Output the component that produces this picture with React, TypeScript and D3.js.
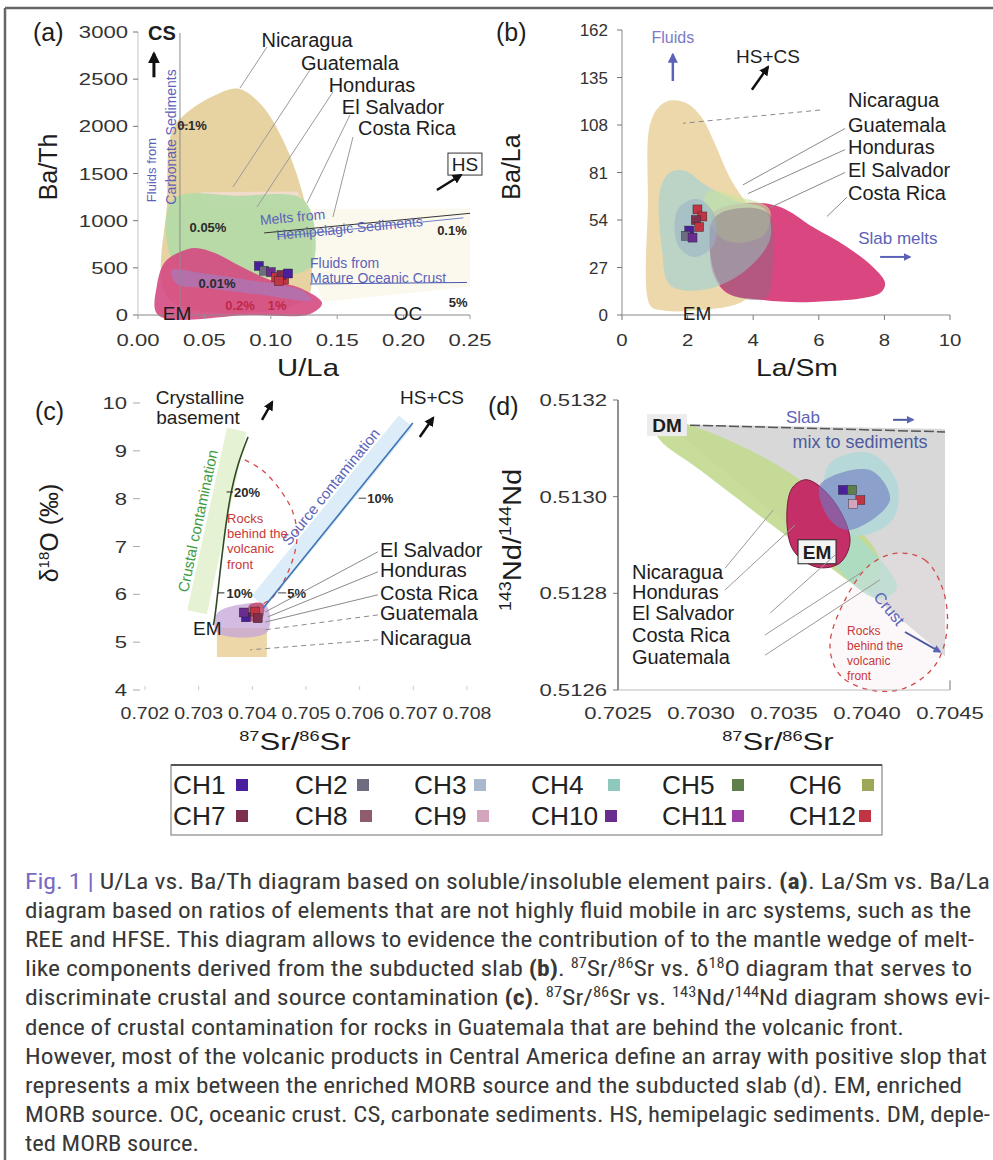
import React from 'react';
import * as d3 from 'd3';

type P = [number, number];
const FONT = "'Liberation Sans', Arial, Helvetica, sans-serif";
const CAP_FONT = "'Liberation Sans Narrow', 'Roboto Condensed', 'Liberation Sans', Arial, sans-serif";

// ---------------- Legend (sample groups) ----------------
const chNames = ['CH1', 'CH2', 'CH3', 'CH4', 'CH5', 'CH6', 'CH7', 'CH8', 'CH9', 'CH10', 'CH11', 'CH12'];
const chColors = ['#4a1f9e', '#6e6c80', '#aab8cc', '#8fc9bd', '#5e7e4c', '#9ea65a', '#7e2f4e', '#8e5c6c', '#d4a4bc', '#6a2c8e', '#9c3ca4', '#c03444'];

// ---------------- (a) U/La vs Ba/Th ----------------
const aXTicks = [0, 0.05, 0.1, 0.15, 0.2, 0.25];
const aXTickLabels = ['0.00', '0.05', '0.10', '0.15', '0.20', '0.25'];
const aYTicks = [0, 500, 1000, 1500, 2000, 2500, 3000];
const aPale: P[] = [[0.125, 1120], [0.25, 1130], [0.25, 300], [0.14, 140], [0.128, 500]];
const aNicaragua: P[] = [[0.024, 160], [0.022, 1220], [0.026, 1960], [0.039, 2170], [0.058, 2330], [0.075, 2400], [0.093, 2225], [0.111, 1800], [0.122, 1380], [0.129, 950], [0.131, 480], [0.126, 160]];
const aGuatemala: P[] = [[0.047, 1300], [0.12, 1310], [0.127, 1150], [0.05, 1150]];
const aHonduras: P[] = [[0.026, 1225], [0.077, 1265], [0.122, 1245], [0.131, 1060], [0.131, 530], [0.114, 424], [0.047, 424], [0.026, 583]];
const aCostaRica: P[] = [[0.015, 0], [0.0143, 318], [0.0203, 562], [0.0316, 668], [0.0429, 710], [0.058, 657], [0.0768, 519], [0.0994, 371], [0.122, 286], [0.1386, 127], [0.1295, 11], [0.0843, 0]];
const aElSalvador: P[] = [[0.025, 470], [0.05, 440], [0.08, 380], [0.125, 250], [0.13, 160], [0.09, 220], [0.05, 290], [0.03, 320]];
const aSamples: [number, number, number][] = [[0.091, 520, 0], [0.095, 470, 1], [0.1, 455, 9], [0.104, 400, 11], [0.11, 375, 11], [0.108, 425, 6], [0.113, 440, 0], [0.106, 360, 11]];
const aLabels: { t: string; p: P }[] = [
  { t: 'Nicaragua', p: [0.1273, 2915] },
  { t: 'Guatemala', p: [0.1596, 2671] },
  { t: 'Honduras', p: [0.1762, 2438] },
  { t: 'El Salvador', p: [0.192, 2205] },
  { t: 'Costa Rica', p: [0.2025, 1982] },
];
const aLeaders: [P, P][] = [
  [[0.0971, 2841], [0.0768, 2406]],
  [[0.1295, 2597], [0.0715, 1357]],
  [[0.1468, 2364], [0.0896, 1145]],
  [[0.1596, 2120], [0.1273, 1187]],
  [[0.1619, 1887], [0.1468, 1039]],
];
const aCSLine: [P, P] = [[0.0316, 0], [0.0316, 2990]];
const aMeltLines: [P, P][] = [[[0.095, 870], [0.25, 1078]], [[0.105, 830], [0.245, 1030]]];
const aFluidLine: [P, P] = [[0.1295, 329], [0.2477, 345]];
const aPercent: { t: string; p: P; red?: boolean }[] = [
  { t: '0.1%', p: [0.0407, 2014] },
  { t: '0.05%', p: [0.0527, 933] },
  { t: '0.01%', p: [0.0595, 339] },
  { t: '0.2%', p: [0.0768, 106], red: true },
  { t: '1%', p: [0.1047, 106], red: true },
  { t: '0.1%', p: [0.2364, 901] },
  { t: '5%', p: [0.241, 138] },
];

// ---------------- (b) La/Sm vs Ba/La ----------------
const bXTicks = [0, 2, 4, 6, 8, 10];
const bYTicks = [0, 27, 54, 81, 108, 135, 162];
const bNicaragua: P[] = [[0.85, 5.7], [0.79, 65], [0.85, 108], [1.16, 119], [1.52, 122], [2.01, 120], [2.44, 112], [2.84, 97], [3.29, 78], [3.84, 62.5], [4.36, 51], [4.51, 31], [3.75, 8.5], [2.38, 2.8], [1.16, 2.8]];
const bHonduras: P[] = [[1.22, 37], [1.16, 71], [1.46, 81], [1.92, 82], [2.53, 74], [3.45, 65], [4.36, 60], [4.51, 43], [3.6, 23], [2.38, 14], [1.46, 17]];
const bElSalvador: P[] = [[2.6, 70], [3.6, 67], [4.5, 60], [4.3, 45], [3.2, 42], [2.6, 55]];
const bGuatemala: P[] = [[1.7, 60], [2.3, 66], [2.8, 58], [2.8, 40], [2.2, 33], [1.7, 40]];
const bCostaRica: P[] = [[2.77, 58], [3.81, 63.7], [4.82, 61.4], [5.82, 50], [6.86, 38.7], [7.65, 27.3], [8.02, 18.2], [7.87, 12.5], [5.82, 7.4], [4.3, 8.5], [3.2, 12.5], [2.77, 23.9], [2.68, 42.6]];
const bOverlap: P[] = [[2.8, 55], [3.8, 61], [4.5, 57], [4.6, 30], [4.4, 10], [3.3, 12], [2.8, 25]];
const bSamples: [number, number, number][] = [[2.3, 60, 11], [2.45, 56, 11], [2.25, 54, 6], [2.05, 48, 0], [1.95, 45, 1], [2.15, 44, 9], [2.35, 50, 11]];
const bLabels: { t: string; p: P }[] = [
  { t: 'Nicaragua', p: [6.89, 122] },
  { t: 'Guatemala', p: [6.89, 108] },
  { t: 'Honduras', p: [6.89, 95.5] },
  { t: 'El Salvador', p: [6.89, 82.4] },
  { t: 'Costa Rica', p: [6.89, 69.4] },
];
const bLeaders: [P, P][] = [
  [[6.04, 116.5], [1.86, 109]],
  [[6.8, 106], [3.69, 74]],
  [[6.8, 94], [3.84, 69]],
  [[6.8, 81], [4.51, 61]],
  [[6.86, 67], [6.25, 56]],
];

// ---------------- (c) 87Sr/86Sr vs d18O ----------------
const cXTicks = [0.702, 0.703, 0.704, 0.705, 0.706, 0.707, 0.708];
const cYTicks = [4, 5, 6, 7, 8, 9, 10];
const cNicaragua: P[] = [[0.70334, 4.69], [0.70427, 4.69], [0.70427, 5.3], [0.70334, 5.3]];
const cElSalvador: P[] = [[0.70334, 5.2], [0.70427, 5.2], [0.70427, 5.75], [0.70385, 5.8], [0.70334, 5.6]];
const cCostaRica: P[] = [[0.70392, 5.45], [0.70418, 5.5], [0.7042, 5.8], [0.70395, 5.78]];
const cSamples: [number, number, number][] = [[0.70388, 5.52, 0], [0.70384, 5.62, 9], [0.70405, 5.64, 11], [0.7041, 5.5, 6]];
const cCrustal: P[] = [[0.70327, 5.36], [0.70334, 5.88], [0.70358, 7.97], [0.70392, 9.29]];
const cCrustalBand: P[] = [[0.70297, 5.63], [0.70371, 9.44]];
const cSource: P[] = [[0.7042, 5.71], [0.70699, 9.58]];
const cSourceBand: P[] = [[0.70412, 5.85], [0.70686, 9.62]];
const cBehindFront: P[] = [[0.70386, 8.81], [0.70418, 8.6], [0.70452, 8.18], [0.70476, 7.7], [0.70483, 7.14], [0.70466, 6.45], [0.70438, 5.94], [0.70409, 5.74]];
const cLabels: { t: string; y: number }[] = [
  { t: 'El Salvador', y: 6.93 },
  { t: 'Honduras', y: 6.51 },
  { t: 'Costa Rica', y: 6.03 },
  { t: 'Guatemala', y: 5.61 },
  { t: 'Nicaragua', y: 5.09 },
];
const cLabelX = 0.70638;
const cLeaders: [P, P][] = [
  [[0.70634, 6.89], [0.70424, 5.63]],
  [[0.70634, 6.47], [0.70429, 5.53]],
  [[0.70634, 5.99], [0.70424, 5.42]],
  [[0.70634, 5.57], [0.70418, 5.25]],
  [[0.70634, 5.05], [0.70396, 4.84]],
];

// ---------------- (d) 87Sr/86Sr vs 143Nd/144Nd ----------------
const dXTicks = [0.7025, 0.703, 0.7035, 0.704, 0.7045];
const dXTickLabels = ['0.7025', '0.7030', '0.7035', '0.7040', '0.7045'];
const dYTicks = [0.5126, 0.5128, 0.513, 0.5132];
const dYTickLabels = ['0.5126', '0.5128', '0.5130', '0.5132'];
const dSlabMix: P[] = [[0.7028, 0.51315], [0.70447, 0.51314], [0.70447, 0.51267]];
const dNicaragua: P[] = [[0.702693, 0.513159], [0.702934, 0.513148], [0.703596, 0.513035], [0.704078, 0.512869], [0.704018, 0.512807], [0.703717, 0.512869], [0.702994, 0.513055], [0.702753, 0.513117]];
const dHonduras: P[] = [[0.70382, 0.51294], [0.70408, 0.51287], [0.70418, 0.51281], [0.70405, 0.51279], [0.70378, 0.51288]];
const dGuatemala: P[] = [[0.70378, 0.51307], [0.70402, 0.51309], [0.70418, 0.51303], [0.70415, 0.51295], [0.70392, 0.51292], [0.70375, 0.51298]];
const dCostaRica: P[] = [[0.703639, 0.513035], [0.703795, 0.512993], [0.703898, 0.51291], [0.703837, 0.512863], [0.703699, 0.512854], [0.703554, 0.51289], [0.703518, 0.512972], [0.703554, 0.51302]];
const dElSalvador: P[] = [[0.703717, 0.513024], [0.704018, 0.513055], [0.704139, 0.512993], [0.703898, 0.512931], [0.703777, 0.512952]];
const dBehindFront: P[] = [[0.704181, 0.512883], [0.704349, 0.512869], [0.704458, 0.512807], [0.704482, 0.512724], [0.70441, 0.512651], [0.704229, 0.512604], [0.704018, 0.5126], [0.703837, 0.512631], [0.703777, 0.512693], [0.703867, 0.512786], [0.704018, 0.512859]];
const dSamples: [number, number, number][] = [[0.703855, 0.513014, 0], [0.70391, 0.513014, 4], [0.70396, 0.512993, 11], [0.703916, 0.512985, 8]];
const dLabels: { t: string; y: number }[] = [
  { t: 'Nicaragua', y: 0.512844 },
  { t: 'Honduras', y: 0.512803 },
  { t: 'El Salvador', y: 0.512759 },
  { t: 'Costa Rica', y: 0.512714 },
  { t: 'Guatemala', y: 0.512668 },
];
const dLabelX = 0.702584;
const dLeaders: [P, P][] = [
  [[0.703145, 0.512852], [0.703434, 0.512972]],
  [[0.703145, 0.512807], [0.703566, 0.512941]],
  [[0.703416, 0.512759], [0.703807, 0.512879]],
  [[0.703386, 0.512714], [0.70397, 0.512844]],
  [[0.703386, 0.512672], [0.704078, 0.512828]],
];

// ---------------- Caption ----------------
type Seg = { t: string; b?: boolean; c?: string; sup?: boolean };
const captionLines: Seg[][] = [
  [{ t: 'Fig. 1 | ', c: '#7a68c4' }, { t: 'U/La vs. Ba/Th diagram based on soluble/insoluble element pairs. ' }, { t: '(a)', b: true }, { t: '. La/Sm vs. Ba/La' }],
  [{ t: 'diagram based on ratios of elements that are not highly fluid mobile in arc systems, such as the' }],
  [{ t: 'REE and HFSE. This diagram allows to evidence the contribution of to the mantle wedge of melt-' }],
  [{ t: 'like components derived from the subducted slab ' }, { t: '(b)', b: true }, { t: '. ' }, { t: '87', sup: true }, { t: 'Sr/' }, { t: '86', sup: true }, { t: 'Sr vs. δ' }, { t: '18', sup: true }, { t: 'O diagram that serves to' }],
  [{ t: 'discriminate crustal and source contamination ' }, { t: '(c)', b: true }, { t: '. ' }, { t: '87', sup: true }, { t: 'Sr/' }, { t: '86', sup: true }, { t: 'Sr vs. ' }, { t: '143', sup: true }, { t: 'Nd/' }, { t: '144', sup: true }, { t: 'Nd diagram shows evi-' }],
  [{ t: 'dence of crustal contamination for rocks in Guatemala that are behind the volcanic front.' }],
  [{ t: 'However, most of the volcanic products in Central America define an array with positive slop that' }],
  [{ t: 'represents a mix between the enriched MORB source and the subducted slab (d). EM, enriched' }],
  [{ t: 'MORB source. OC, oceanic crust. CS, carbonate sediments. HS, hemipelagic sediments. DM, deple-' }],
  [{ t: 'ted MORB source.' }],
];
const captionLineEnds = [990, 971, 974, 972, 990, 904, 987, 962, 990, 199];

// ---------------- helpers ----------------
type Sc = d3.ScaleLinear<number, number>;
function helpers(x: Sc, y: Sc) {
  const blob = d3.line<P>().x(d => x(d[0])).y(d => y(d[1])).curve(d3.curveCatmullRomClosed.alpha(0.5));
  const poly = d3.line<P>().x(d => x(d[0])).y(d => y(d[1])).curve(d3.curveLinearClosed);
  const open = d3.line<P>().x(d => x(d[0])).y(d => y(d[1])).curve(d3.curveCatmullRom.alpha(0.5));
  const seg = (a: P, b: P, props: any = {}, key?: any) => (
    <line key={key} x1={x(a[0])} y1={y(a[1])} x2={x(b[0])} y2={y(b[1])} {...props} />
  );
  return { blob, poly, open, seg };
}

function T(props: { x: number; y: number; children: any; size?: number; anchor?: string; fill?: string; weight?: any; sx?: number; rot?: number; family?: string; style?: any }) {
  const { x, y, children, size = 20, anchor = 'start', fill = '#1d1d1d', weight = 'normal', sx = 1, rot = 0, family = FONT } = props;
  return (
    <text transform={`translate(${x},${y}) rotate(${rot}) scale(${sx},1)`} fontSize={size} textAnchor={anchor as any} fill={fill} fontWeight={weight} fontFamily={family} style={props.style}>
      {children}
    </text>
  );
}

function Squares({ pts, x, y }: { pts: [number, number, number][]; x: Sc; y: Sc }) {
  return (
    <g>
      {pts.map((p, i) => (
        <rect key={i} x={x(p[0]) - 4.5} y={y(p[1]) - 4.5} width={9} height={9} fill={chColors[p[2]]} stroke="#222" strokeWidth={0.4} />
      ))}
    </g>
  );
}

const BLUE = '#5b63b8';
const TICK_SX = 1.3;

// ---------------- Panel (a) ----------------
function PanelA() {
  const x = d3.scaleLinear().domain([0, 0.25]).range([138, 470]);
  const y = d3.scaleLinear().domain([0, 3000]).range([315, 32]);
  const { blob, poly, seg } = helpers(x, y);
  return (
    <g>
      <path d={poly(aPale)!} fill="#fbf9ee" />
      <path d={blob(aNicaragua)!} fill="#e7d2a2" />
      <path d={poly(aGuatemala)!} fill="#f1dccb" />
      <path d={blob(aHonduras)!} fill="#b4daa6" opacity={0.92} />
      <path d={blob(aCostaRica)!} fill="#d4467f" opacity={0.88} />
      <path d={blob(aElSalvador)!} fill="#9a84cc" opacity={0.55} />
      {/* axes */}
      {seg([0, 0], [0.25, 0], { stroke: '#8a8a8a', strokeWidth: 1.2 })}
      {seg([0, 0], [0, 3000], { stroke: '#c4c4c4', strokeWidth: 1 })}
      {aYTicks.map(v => <line key={'yt' + v} x1={x(0) - 5} x2={x(0)} y1={y(v)} y2={y(v)} stroke="#777" />)}
      {aXTicks.map(v => <line key={'xt' + v} x1={x(v)} x2={x(v)} y1={y(0)} y2={y(0) + 4} stroke="#999" />)}
      {aYTicks.map(v => <T key={'yl' + v} x={128} y={y(v) + 6} size={17} anchor="end" sx={TICK_SX} fill="#333">{String(v)}</T>)}
      {aXTicks.map((v, i) => <T key={'xl' + v} x={x(v)} y={346} size={17} anchor="middle" sx={TICK_SX} fill="#333">{aXTickLabels[i]}</T>)}
      <T x={33} y={41} size={25}>(a)</T>
      <T x={57} y={167} size={25} rot={-90} anchor="middle">Ba/Th</T>
      <T x={308} y={376} size={24} anchor="middle" sx={1.22}>U/La</T>
      {/* carbonate sediment fluids */}
      {seg(aCSLine[0], aCSLine[1], { stroke: '#8c8c8c', strokeWidth: 1 })}
      <line x1={x(0.0316)} x2={x(0.0316) + 8} y1={y(2014)} y2={y(2014)} stroke="#333" />
      <T x={156} y={170} size={13} rot={-90} anchor="middle" fill={BLUE}>Fluids from</T>
      <T x={176} y={137} size={14} rot={-90} anchor="middle" fill={BLUE}>Carbonate Sediments</T>
      <T x={x(0.018)} y={y(2989) + 7} size={20} anchor="middle" weight="bold">CS</T>
      {seg([0.012, 2520], [0.012, 2770], { stroke: '#111', strokeWidth: 3, markerEnd: 'url(#ahK)' })}
      {/* hemipelagic sediment melts */}
      {aMeltLines.map((l, i) => seg(l[0], l[1], { stroke: i === 0 ? '#333' : '#7080c8', strokeWidth: 1 }, 'ml' + i))}
      <T x={x(0.1167)} y={y(1039) + 5} size={14} anchor="middle" rot={-5.5} fill={BLUE}>Melts from</T>
      <T x={x(0.1596)} y={y(922) + 5} size={14} anchor="middle" rot={-5.5} fill={BLUE}>Hemipelagic Sediments</T>
      {/* mature oceanic crust fluids */}
      {seg(aFluidLine[0], aFluidLine[1], { stroke: '#4a5ab0', strokeWidth: 1 })}
      <T x={x(0.1295)} y={y(551) + 5} size={14} fill={BLUE}>Fluids from</T>
      <T x={x(0.1295)} y={y(392) + 5} size={14} fill={BLUE}>Mature Oceanic Crust</T>
      {aPercent.map((p, i) => (
        <T key={'pc' + i} x={x(p.p[0])} y={y(p.p[1]) + 5} size={13} anchor="middle" weight="bold" fill={p.red ? '#c0284c' : '#2a2a2a'}>{p.t}</T>
      ))}
      <T x={x(0.0294)} y={y(21) + 7} size={19} anchor="middle">EM</T>
      <T x={x(0.2033)} y={y(21) + 7} size={19} anchor="middle">OC</T>
      {/* HS */}
      <rect x={x(0.2462) - 17} y={y(1600) - 11} width={34} height={22} fill="none" stroke="#333" strokeWidth={1} />
      <T x={x(0.2462)} y={y(1600) + 7} size={19} anchor="middle">HS</T>
      {seg([0.2251, 1325], [0.2432, 1484], { stroke: '#111', strokeWidth: 2.5, markerEnd: 'url(#ahK)' })}
      <Squares pts={aSamples} x={x} y={y} />
      {aLeaders.map((l, i) => seg(l[0], l[1], { stroke: '#9a9a9a', strokeWidth: 1 }, 'ld' + i))}
      {aLabels.map(l => <T key={l.t} x={x(l.p[0])} y={y(l.p[1]) + 7} size={20} anchor="middle">{l.t}</T>)}
    </g>
  );
}

// ---------------- Panel (b) ----------------
function PanelB() {
  const x = d3.scaleLinear().domain([0, 10]).range([622, 950]);
  const y = d3.scaleLinear().domain([0, 162]).range([315, 30]);
  const { blob, seg } = helpers(x, y);
  return (
    <g>
      <path d={blob(bNicaragua)!} fill="#ecd6a6" opacity={0.95} />
      <path d={blob(bCostaRica)!} fill="#d94680" />
      <path d={blob(bHonduras)!} fill="#a9d3cf" opacity={0.75} />
      <path d={blob(bElSalvador)!} fill="#c9e2a0" opacity={0.6} />
      <path d={blob(bOverlap)!} fill="#8a6e80" opacity={0.45} />
      <path d={blob(bGuatemala)!} fill="#98b0c8" opacity={0.55} />
      {seg([0, 0], [10, 0], { stroke: '#8a8a8a', strokeWidth: 1.2 })}
      {seg([0, 0], [0, 162], { stroke: '#8a8a8a', strokeWidth: 1 })}
      {bYTicks.map(v => <line key={'yt' + v} x1={x(0) - 5} x2={x(0)} y1={y(v)} y2={y(v)} stroke="#777" />)}
      {bXTicks.map(v => <line key={'xt' + v} x1={x(v)} x2={x(v)} y1={y(0)} y2={y(0) + 5} stroke="#777" />)}
      {bYTicks.map(v => <T key={'yl' + v} x={608} y={y(v) + 6} size={17} anchor="end" fill="#333">{String(v)}</T>)}
      {bXTicks.map(v => <T key={'xl' + v} x={x(v)} y={346} size={17} anchor="middle" sx={1.2} fill="#333">{String(v)}</T>)}
      <T x={496} y={41} size={25}>(b)</T>
      <T x={520} y={167} size={25} rot={-90} anchor="middle">Ba/La</T>
      <T x={797} y={376} size={24} anchor="middle" sx={1.18}>La/Sm</T>
      <T x={x(1.55)} y={y(158) + 6} size={16} anchor="middle" fill="#7a7ac8">Fluids</T>
      {seg([1.55, 133], [1.55, 148], { stroke: '#5b63b8', strokeWidth: 2.5, markerEnd: 'url(#ahB)' })}
      <T x={x(4.45)} y={y(147) + 7} size={19} anchor="middle">HS+CS</T>
      {seg([3.96, 128], [4.45, 141], { stroke: '#111', strokeWidth: 2.5, markerEnd: 'url(#ahK)' })}
      <T x={x(8.41)} y={y(44) + 6} size={17} anchor="middle" fill={BLUE}>Slab melts</T>
      {seg([7.87, 33], [8.78, 33], { stroke: '#5b63b8', strokeWidth: 2, markerEnd: 'url(#ahB)' })}
      <T x={x(2.29)} y={y(1) + 7} size={19} anchor="middle">EM</T>
      <Squares pts={bSamples} x={x} y={y} />
      {bLeaders.map((l, i) => seg(l[0], l[1], { stroke: '#8a8a8a', strokeWidth: 1, strokeDasharray: i === 0 ? '5,4' : undefined }, 'ld' + i))}
      {bLabels.map(l => <T key={l.t} x={x(l.p[0])} y={y(l.p[1]) + 7} size={20}>{l.t}</T>)}
    </g>
  );
}

// ---------------- Panel (c) ----------------
function PanelC() {
  const x = d3.scaleLinear().domain([0.702, 0.708]).range([145, 467]);
  const y = d3.scaleLinear().domain([4, 10]).range([690, 403]);
  const { blob, poly, open, seg } = helpers(x, y);
  const crustal = d3.line<P>().x(d => x(d[0])).y(d => y(d[1])).curve(d3.curveNatural);
  return (
    <g>
      {seg(cCrustalBand[0], cCrustalBand[1], { stroke: '#e6f2d4', strokeWidth: 20 })}
      {seg(cSourceBand[0], cSourceBand[1], { stroke: '#dcecf8', strokeWidth: 18 })}
      <path d={poly(cNicaragua)!} fill="#edd6a8" />
      <path d={blob(cElSalvador)!} fill="#c4a4d8" opacity={0.75} />
      <path d={blob(cCostaRica)!} fill="#b83458" opacity={0.7} />
      <path d={open(cBehindFront)!} fill="none" stroke="#d24a4a" strokeWidth={1.3} strokeDasharray="5,5" />
      <path d={crustal(cCrustal)!} fill="none" stroke="#2e4a22" strokeWidth={1.6} />
      {seg(cSource[0], cSource[1], { stroke: '#3f74b4', strokeWidth: 1.6 })}
      {cYTicks.map(v => <line key={'yt' + v} x1={133} x2={140} y1={y(v)} y2={y(v)} stroke="#aaa" />)}
      {cXTicks.map(v => <line key={'xt' + v} x1={x(v)} x2={x(v)} y1={y(4) - 4} y2={y(4)} stroke="#ccc" />)}
      {cYTicks.map(v => <T key={'yl' + v} x={127} y={y(v) + 6} size={17} anchor="end" sx={TICK_SX} fill="#333">{String(v)}</T>)}
      {cXTicks.map(v => <T key={'xl' + v} x={x(v)} y={719} size={16} anchor="middle" sx={1.22} fill="#333">{String(v)}</T>)}
      <T x={35} y={420} size={25}>(c)</T>
      <T x={58} y={533} size={25} rot={-90} anchor="middle">δ<tspan fontSize={15} dy={-9}>18</tspan><tspan dy={9}>O (‰)</tspan></T>
      <T x={295} y={750} size={24} anchor="middle" sx={1.3}><tspan fontSize={14} dy={-9}>87</tspan><tspan dy={9}>Sr/</tspan><tspan fontSize={14} dy={-9}>86</tspan><tspan dy={9}>Sr</tspan></T>
      <T x={x(0.70308)} y={y(7.51)} size={15} rot={-78} anchor="middle" fill="#3d9b3d">Crustal contamination</T>
      <T x={x(0.70554)} y={y(8.18)} size={15} rot={-51} anchor="middle" fill={BLUE}>Source contamination</T>
      <line x1={x(0.70335)} x2={x(0.70348)} y1={y(6.03)} y2={y(6.03)} stroke="#222" />
      <line x1={x(0.70352)} x2={x(0.70364)} y1={y(8.14)} y2={y(8.14)} stroke="#222" />
      <T x={x(0.70352)} y={y(6.03) + 5} size={13} weight="bold" fill="#2a2a2a">10%</T>
      <T x={x(0.70366)} y={y(8.14) + 5} size={13} weight="bold" fill="#2a2a2a">20%</T>
      <line x1={x(0.70448)} x2={x(0.70463)} y1={y(6.03)} y2={y(6.03)} stroke="#444" />
      <line x1={x(0.70598)} x2={x(0.70612)} y1={y(8.01)} y2={y(8.01)} stroke="#444" />
      <T x={x(0.70465)} y={y(6.03) + 5} size={13} weight="bold" fill="#2a2a2a">5%</T>
      <T x={x(0.70614)} y={y(8.01) + 5} size={13} weight="bold" fill="#2a2a2a">10%</T>
      {['Rocks', 'behind the', 'volcanic', 'front'].map((s, i) => (
        <T key={s} x={x(0.70353)} y={y(7.6 - i * 0.32) + 5} size={13} fill="#c83838">{s}</T>
      ))}
      <T x={x(0.703025)} y={y(10.105) + 6} size={19} anchor="middle">Crystalline</T>
      <T x={x(0.702988)} y={y(9.687) + 6} size={19} anchor="middle">basement</T>
      {seg([0.70418, 9.645], [0.70437, 10.02], { stroke: '#111', strokeWidth: 2.5, markerEnd: 'url(#ahK)' })}
      <T x={x(0.707348)} y={y(10.105) + 6} size={19} anchor="middle">HS+CS</T>
      {seg([0.70712, 9.29], [0.70737, 9.69], { stroke: '#111', strokeWidth: 2.5, markerEnd: 'url(#ahK)' })}
      <Squares pts={cSamples} x={x} y={y} />
      <T x={x(0.70316)} y={y(5.3) + 7} size={19} anchor="middle">EM</T>
      {cLeaders.map((l, i) => seg(l[0], l[1], { stroke: '#8a8a8a', strokeWidth: 1, strokeDasharray: i >= 3 ? '5,4' : undefined }, 'ld' + i))}
      {cLabels.map(l => <T key={l.t} x={x(cLabelX)} y={y(l.y) + 7} size={20}>{l.t}</T>)}
    </g>
  );
}

// ---------------- Panel (d) ----------------
function PanelD() {
  const x = d3.scaleLinear().domain([0.7025, 0.7045]).range([618, 950]);
  const y = d3.scaleLinear().domain([0.5126, 0.5132]).range([690, 400]);
  const { blob, poly, seg } = helpers(x, y);
  return (
    <g>
      <path d={poly(dSlabMix)!} fill="#d4d4d4" opacity={0.9} />
      <path d={blob(dNicaragua)!} fill="#c4da92" opacity={0.92} />
      <path d={blob(dHonduras)!} fill="#a8dccb" opacity={0.8} />
      <path d={blob(dGuatemala)!} fill="#b2d8d8" opacity={0.85} />
      <path d={blob(dCostaRica)!} fill="#c42f68" stroke="#7a1a3c" strokeWidth={1} />
      <path d={blob(dElSalvador)!} fill="#6f7cc4" opacity={0.6} />
      <path d={blob(dBehindFront)!} fill="#f3e4ea" fillOpacity={0.25} stroke="#d04a4a" strokeWidth={1.3} strokeDasharray="5,5" />
      {seg([0.702934, 0.513148], [0.70447, 0.513134], { stroke: '#555', strokeWidth: 1.5, strokeDasharray: '10,3' })}
      {seg([0.7045, 0.5126], [0.7045, 0.51262], { stroke: '#777' })}
      {seg([0.7025, 0.5126], [0.7045, 0.5126], { stroke: '#bbb', strokeWidth: 1 })}
      {seg([0.7025, 0.5126], [0.7025, 0.5132], { stroke: '#555', strokeWidth: 1.3 })}
      {dYTicks.map(v => <line key={'yt' + v} x1={x(0.7025) - 5} x2={x(0.7025)} y1={y(v)} y2={y(v)} stroke="#777" />)}
      {dYTicks.map((v, i) => <T key={'yl' + v} x={607} y={y(v) + 6} size={17} anchor="end" sx={TICK_SX} fill="#333">{dYTickLabels[i]}</T>)}
      {dXTicks.map((v, i) => <T key={'xl' + v} x={x(v)} y={719} size={17} anchor="middle" sx={TICK_SX} fill="#333">{dXTickLabels[i]}</T>)}
      <T x={488} y={415} size={25}>(d)</T>
      <T x={521} y={540} size={26} rot={-90} anchor="middle" sx={1.12}><tspan fontSize={16} dy={-10}>143</tspan><tspan dy={10}>Nd/</tspan><tspan fontSize={16} dy={-10}>144</tspan><tspan dy={10}>Nd</tspan></T>
      <T x={778} y={750} size={24} anchor="middle" sx={1.3}><tspan fontSize={14} dy={-9}>87</tspan><tspan dy={9}>Sr/</tspan><tspan fontSize={14} dy={-9}>86</tspan><tspan dy={9}>Sr</tspan></T>
      <rect x={x(0.702795) - 20} y={y(0.513148) - 11} width={40} height={22} fill="#ececec" />
      <T x={x(0.702795)} y={y(0.513148) + 7} size={19} anchor="middle" weight="bold">DM</T>
      <T x={x(0.703614)} y={y(0.513165) + 6} size={17} anchor="middle" fill={BLUE}>Slab</T>
      <T x={x(0.703958)} y={y(0.513113) + 6} size={18} anchor="middle" fill="#4d5aa0">mix to sediments</T>
      {seg([0.704157, 0.513159], [0.704277, 0.513159], { stroke: '#4d5aa0', strokeWidth: 2, markerEnd: 'url(#ahB)' })}
      <T x={x(0.704108)} y={y(0.512761)} size={16} anchor="middle" rot={50} fill={BLUE}>Crust</T>
      {seg([0.704229, 0.51272], [0.70444, 0.512679], { stroke: '#4d5aa0', strokeWidth: 2, markerEnd: 'url(#ahB)' })}
      {['Rocks', 'behind the', 'volcanic', 'front'].map((s, i) => (
        <T key={s} x={x(0.70388)} y={y(0.512724 - i * 0.000031) + 5} size={12} fill="#c83838">{s}</T>
      ))}
      <Squares pts={dSamples} x={x} y={y} />
      <rect x={x(0.703699) - 19} y={y(0.512886) - 12} width={38} height={24} fill="#f4f4f4" stroke="#222" strokeWidth={1} />
      <T x={x(0.703699)} y={y(0.512886) + 7} size={19} anchor="middle" weight="bold">EM</T>
      {dLeaders.map((l, i) => seg(l[0], l[1], { stroke: '#9a9a9a', strokeWidth: 1 }, 'ld' + i))}
      {dLabels.map(l => <T key={l.t} x={x(dLabelX)} y={y(l.y) + 7} size={20}>{l.t}</T>)}
    </g>
  );
}

// ---------------- Legend ----------------
const legendTextX = [173, 295, 414, 531, 662, 789];
const legendSquareX = [[236, 357, 474, 608, 732, 862], [236, 360, 477, 605, 732, 859]];
function Legend() {
  return (
    <g>
      <rect x={171} y={765} width={711} height={70} fill="#fff" stroke="#888" strokeWidth={1.2} />
      <line x1={171} x2={882} y1={765} y2={765} stroke="#555" strokeWidth={2} />
      {chNames.map((n, i) => {
        const row = Math.floor(i / 6);
        const col = i % 6;
        const by = row === 0 ? 794 : 825;
        return (
          <g key={n}>
            <T x={legendTextX[col]} y={by} size={25} fill="#222" sx={1.05}>{n}</T>
            <rect x={legendSquareX[row][col]} y={by - 15} width={12} height={12} fill={chColors[i]} />
          </g>
        );
      })}
    </g>
  );
}

// ---------------- Caption ----------------
function Caption() {
  return (
    <g>
      {captionLines.map((line, i) => {
        let raised = false;
        const parts: any[] = [];
        line.forEach((s, j) => {
          let dy = 0;
          if (s.sup && !raised) { dy = -8; raised = true; }
          else if (!s.sup && raised) { dy = 8; raised = false; }
          parts.push(
            <tspan key={j} dy={dy || undefined} fontSize={s.sup ? 14 : 22} fontWeight={s.b ? 'bold' : 'normal'} fill={s.c || '#383838'}>{s.t}</tspan>
          );
        });
        return (
          <text key={i} x={25} y={889 + i * 29.1} fontFamily={CAP_FONT} fontSize={22} fill="#383838"
            textLength={captionLineEnds[i] - 25} lengthAdjust="spacingAndGlyphs">
            {parts}
          </text>
        );
      })}
    </g>
  );
}

export default function App() {
  return (
    <svg width={993} height={1160} viewBox="0 0 993 1160" style={{ position: 'absolute', left: 0, top: 0, background: '#fff' }}>
      <defs>
        <marker id="ahK" viewBox="0 0 10 10" refX="8" refY="5" markerWidth="4" markerHeight="4" orient="auto">
          <path d="M0,0L10,5L0,10z" fill="#111" />
        </marker>
        <marker id="ahB" viewBox="0 0 10 10" refX="8" refY="5" markerWidth="4" markerHeight="4" orient="auto">
          <path d="M0,0L10,5L0,10z" fill="#5b63b8" />
        </marker>
      </defs>
      <rect x={0} y={0} width={993} height={1160} fill="#fff" />
      <PanelA />
      <PanelB />
      <PanelC />
      <PanelD />
      <Legend />
      <Caption />
      <line x1={5} y1={8} x2={993} y2={8} stroke="#666" strokeWidth={2.5} />
      <line x1={5} y1={8} x2={5} y2={1160} stroke="#666" strokeWidth={2.5} />
    </svg>
  );
}
